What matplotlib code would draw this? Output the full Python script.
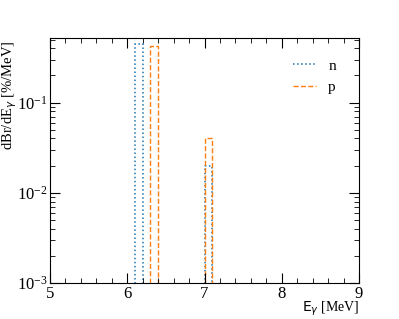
import numpy as np
import matplotlib
matplotlib.use("Agg")
import matplotlib.pyplot as plt
from matplotlib.ticker import MultipleLocator, LogLocator, NullFormatter

plt.rcParams['font.family'] = ['Liberation Serif', 'DejaVu Serif']
plt.rcParams['mathtext.fontset'] = 'dejavusans'

# bin edges in MeV and bin contents (%/MeV)
edges = np.round(np.arange(5.0, 9.0001, 0.1), 1)
bins_n = [6.1, 7.0]
vals_n = [0.45, 0.020]
bins_p = [6.3, 7.0]
vals_p = [0.425, 0.041]

def fill(bins, vals):
    h = np.zeros(len(edges) - 1)
    for b, v in zip(bins, vals):
        h[int(round((b - 5.0) / 0.1))] = v
    return h

h_n = fill(bins_n, vals_n)
h_p = fill(bins_p, vals_p)

fig = plt.figure(figsize=(3.99, 3.19), dpi=100)
ax = fig.add_axes([50/399, 1 - 283/319, 309/399, 245/319])

ax.stairs(h_n, edges, color='tab:blue', linestyle=':', linewidth=1.1, label='n')
ax.stairs(h_p, edges, color='tab:orange', linestyle='--', linewidth=1.0, label='p')

ax.set_yscale('log')
ax.set_xlim(5, 9)
ax.set_ylim(1e-3, 0.52)

ax.xaxis.set_major_locator(MultipleLocator(1))
ax.xaxis.set_minor_locator(MultipleLocator(0.2))
ax.yaxis.set_minor_locator(LogLocator(subs=np.arange(2, 10)))
ax.yaxis.set_minor_formatter(NullFormatter())
ax.tick_params(which='both', direction='in', top=True, right=True, labelsize=12)
ax.tick_params(which='major', length=7, pad=2)
ax.tick_params(which='minor', length=3.5)

ax.set_xlabel(r'$\mathsf{E}_{\gamma}$ [MeV]', loc='right', fontsize=10, labelpad=-1.5)
ax.set_ylabel(r'dBr/dE$_\gamma$ [%/MeV]', loc='top', fontsize=10.5)
ax.yaxis.set_label_coords(-0.1, 0.99)

ax.legend(loc='upper right', frameon=False, fontsize=11, handlelength=1.5,
          bbox_to_anchor=(0.97, 0.97))

fig.savefig('out.png', dpi=100)
